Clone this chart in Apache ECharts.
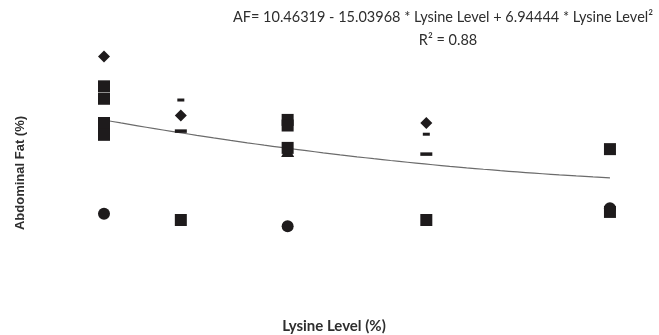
<!DOCTYPE html>
<html><head><meta charset="utf-8">
<script src="https://cdn.jsdelivr.net/npm/echarts@6/dist/echarts.min.js"></script>
<style>html,body{margin:0;padding:0;background:#fff}#c{width:659px;height:335px}</style>
</head><body><div id="c"></div>
<script>
// Lysine levels (x) for the five treatment groups
const lysineLevels = [0.700, 0.741, 0.798, 0.872, 0.970];
// Abdominal fat (%) observations by marker type: [lysine, AF]
const diamondPts = [[0.700, 4.36], [0.741, 3.41], [0.872, 3.29]];
const squarePts = [[0.700, 3.88], [0.700, 3.68], [0.700, 3.29], [0.700, 3.10], [0.741, 1.73],
  [0.798, 3.34], [0.798, 3.25], [0.798, 2.89], [0.872, 1.73], [0.970, 2.87], [0.970, 1.86]];
const trianglePts = [[0.798, 2.84]];
const dashPts = [[0.741, 3.16], [0.872, 2.79]];
const smallDashPts = [[0.741, 3.66], [0.872, 3.11]];
const circlePts = [[0.700, 1.83], [0.798, 1.63], [0.970, 1.92]];
// Regression coefficients shown in the chart: AF = a + b*L + c*L^2
const coefA = 10.46319, coefB = -15.03968, coefC = 6.94444;
const equationText = 'AF= 10.46319 - 15.03968 * Lysine Level + 6.94444 * Lysine Level²';
const r2Text = 'R² = 0.88';
const xTitle = 'Lysine Level (%)';
const yTitle = 'Abdominal Fat (%)';

const curve = [];
const L0 = lysineLevels[0], L1 = lysineLevels[lysineLevels.length - 1];
for (let i = 0; i <= 60; i++) {
  const L = L0 + (L1 - L0) * i / 60;
  curve.push([L, coefA + coefB * L + coefC * L * L]);
}
const ink = '#1e1b1c';
const mk = {color: ink, opacity: 1};
const chart = echarts.init(document.getElementById('c'), null, {renderer: 'canvas'});
chart.setOption({
  animation: false,
  grid: {left: 10.3, top: 16.7, width: 618.4, height: 248.7},
  xAxis: {type: 'value', min: 0.65, max: 0.98, show: false},
  yAxis: {type: 'value', min: 1.0, max: 5.0, show: false},
  series: [
    {type: 'line', data: curve, showSymbol: false, lineStyle: {color: '#6b6b6b', width: 1.2}, z: 1},
    {type: 'scatter', data: squarePts, symbol: 'rect', symbolSize: 12, itemStyle: mk, z: 3},
    {type: 'scatter', data: diamondPts, symbol: 'diamond', symbolSize: [12, 12], itemStyle: mk, z: 3},
    {type: 'scatter', data: trianglePts, symbol: 'triangle', symbolSize: [13, 12], itemStyle: mk, z: 2},
    {type: 'scatter', data: dashPts, symbol: 'rect', symbolSize: [12, 3.5], itemStyle: mk, z: 3},
    {type: 'scatter', data: smallDashPts, symbol: 'rect', symbolSize: [7, 3], itemStyle: mk, z: 3},
    {type: 'scatter', data: circlePts, symbol: 'circle', symbolSize: 12, itemStyle: mk, z: 3}
  ],
  graphic: [
    {type: 'text', position: [443, 17], style: {text: equationText, x: 0, y: 0, textAlign: 'center', textVerticalAlign: 'middle', font: '14.5px Lato', fill: '#2e2e2e'}},
    {type: 'text', position: [448, 40], style: {text: r2Text, x: 0, y: 0, textAlign: 'center', textVerticalAlign: 'middle', font: '14.5px Lato', fill: '#2e2e2e'}},
    {type: 'text', position: [334, 326], style: {text: xTitle, x: 0, y: 0, textAlign: 'center', textVerticalAlign: 'middle', font: 'bold 15px Lato', fill: '#2e2e2e'}},
    {type: 'text', position: [20, 173], rotation: Math.PI / 2, style: {text: yTitle, x: 0, y: 0, textAlign: 'center', textVerticalAlign: 'middle', font: 'bold 13px "Liberation Sans"', fill: '#2e2e2e'}}
  ]
});
</script></body></html>
